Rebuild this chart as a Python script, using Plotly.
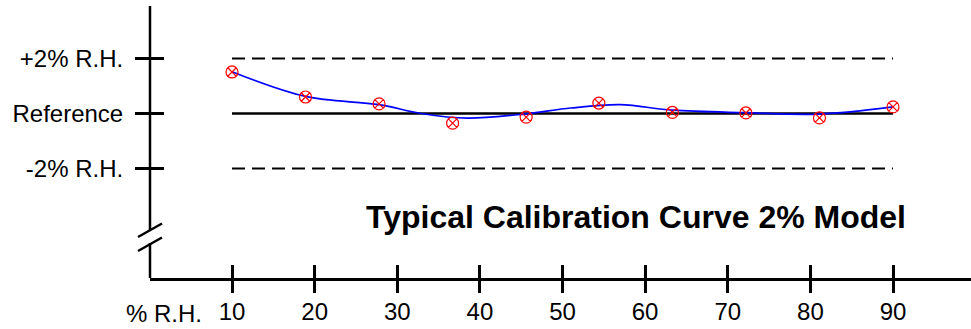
import plotly.graph_objects as go

# ---- data ----
rh_points = [10, 18.9, 27.8, 36.7, 45.6, 54.4, 63.3, 72.2, 81.1, 90]
deviation = [1.51, 0.60, 0.35, -0.35, -0.13, 0.38, 0.04, 0.02, -0.16, 0.24]

curve_rh = [10, 18.9, 27.8, 32.9, 38.5, 45.6, 51, 57, 63.3, 72.2, 81.1, 90]
curve_dev = [1.52, 0.62, 0.32, 0.0, -0.17, -0.01, 0.2, 0.32, 0.12, 0.03, -0.02, 0.24]

band_rh = [10, 90]
upper_band = [2, 2]
reference = [0, 0]
lower_band = [-2, -2]

x_ticks = [10, 20, 30, 40, 50, 60, 70, 80, 90]
y_tick_vals = [2, 0, -2]
y_tick_text = ["+2% R.H.", "Reference", "-2% R.H."]

title_text = "Typical Calibration Curve 2% Model"
x_label = "% R.H."

# ---- layout geometry (pixels) ----
FW, FH = 971, 329
L, T = 150, 6
W, H = FW - L, 278 - T

def pxx(px):
    return (px - L) / W

def pxy(py):
    return (T + H - py) / H

FONT = "Liberation Sans, Arial, sans-serif"
DASH = "13px,7px"

fig = go.Figure()

fig.add_trace(go.Scatter(x=band_rh, y=upper_band, mode="lines",
                         line=dict(color="black", width=2, dash=DASH),
                         hoverinfo="skip", showlegend=False))
fig.add_trace(go.Scatter(x=band_rh, y=lower_band, mode="lines",
                         line=dict(color="black", width=2, dash=DASH),
                         hoverinfo="skip", showlegend=False))
fig.add_trace(go.Scatter(x=band_rh, y=reference, mode="lines",
                         line=dict(color="black", width=2.5),
                         hoverinfo="skip", showlegend=False))
fig.add_trace(go.Scatter(x=curve_rh, y=curve_dev, mode="lines",
                         line=dict(color="#0000ff", width=1.7, shape="spline", smoothing=1.0),
                         showlegend=False))
fig.add_trace(go.Scatter(x=rh_points, y=deviation, mode="markers",
                         marker=dict(symbol="circle-x-open", size=12, color="#ff0000",
                                     line=dict(width=1.2, color="#ff0000")),
                         showlegend=False))

# axis ranges derived from pixel placement
px_per_x = (893 - 232) / 80.0
x0 = 10 + (L - 232) / px_per_x
x1 = 10 + (FW - 232) / px_per_x
px_per_y = 27.5
y_ref_px = 113.5
y0 = (y_ref_px - (T + H)) / px_per_y
y1 = (y_ref_px - T) / px_per_y

tickfont = dict(family=FONT, size=24, color="black")

fig.update_layout(
    width=FW, height=FH,
    margin=dict(l=L, r=0, t=T, b=FH - T - H, pad=0, autoexpand=False),
    plot_bgcolor="white", paper_bgcolor="white",
    xaxis=dict(range=[x0, x1], showgrid=False, zeroline=False, automargin=False,
               showline=True, linecolor="black", linewidth=2.5,
               tickmode="array", tickvals=x_ticks,
               ticks="inside", ticklen=13, tickwidth=2.5, tickcolor="black",
               tickfont=tickfont, ticklabelstandoff=10),
    xaxis2=dict(range=[x0, x1], overlaying="x", side="bottom", showgrid=False,
                zeroline=False, showline=False, tickmode="array", tickvals=x_ticks,
                ticks="outside", ticklen=14, tickwidth=2.5, tickcolor="black",
                showticklabels=False, automargin=False),
    yaxis=dict(range=[y0, y1], showgrid=False, zeroline=False, showline=False,
               automargin=False,
               tickmode="array", tickvals=y_tick_vals, ticktext=y_tick_text,
               ticks="outside", ticklen=14, tickwidth=2.5, tickcolor="black",
               tickfont=tickfont, ticklabelstandoff=7),
    yaxis2=dict(range=[y0, y1], overlaying="y", side="left", showgrid=False,
                zeroline=False, showline=False, tickmode="array", tickvals=y_tick_vals,
                ticks="inside", ticklen=14, tickwidth=2.5, tickcolor="black",
                showticklabels=False, automargin=False),
)

# dummy trace to activate overlay axes
fig.add_trace(go.Scatter(x=[None], y=[None], xaxis="x2", yaxis="y2", showlegend=False,
                         hoverinfo="skip"))

# y-axis line with break
ax = dict(type="line", xref="paper", yref="paper", line=dict(color="black", width=2.5))
fig.add_shape(**ax, x0=0, x1=0, y0=pxy(6), y1=pxy(230))
fig.add_shape(**ax, x0=0, x1=0, y0=pxy(243), y1=pxy(278))
fig.add_shape(**ax, x0=pxx(138), x1=pxx(162), y0=pxy(237), y1=pxy(223.5))
fig.add_shape(**ax, x0=pxx(138), x1=pxx(162), y0=pxy(251), y1=pxy(237.5))

fig.add_annotation(text=f"<b>{title_text}</b>", xref="paper", yref="paper",
                   x=pxx(636), y=pxy(217), xanchor="center", yanchor="middle",
                   showarrow=False, font=dict(family=FONT, size=32, color="black"))
fig.add_annotation(text=x_label, xref="paper", yref="paper",
                   x=pxx(204), y=pxy(313), xanchor="right", yanchor="middle",
                   showarrow=False, font=tickfont)

fig.write_html("out.html", config={"displayModeBar": False},
               post_script="document.body.style.margin='0';document.body.style.overflow='hidden';")
